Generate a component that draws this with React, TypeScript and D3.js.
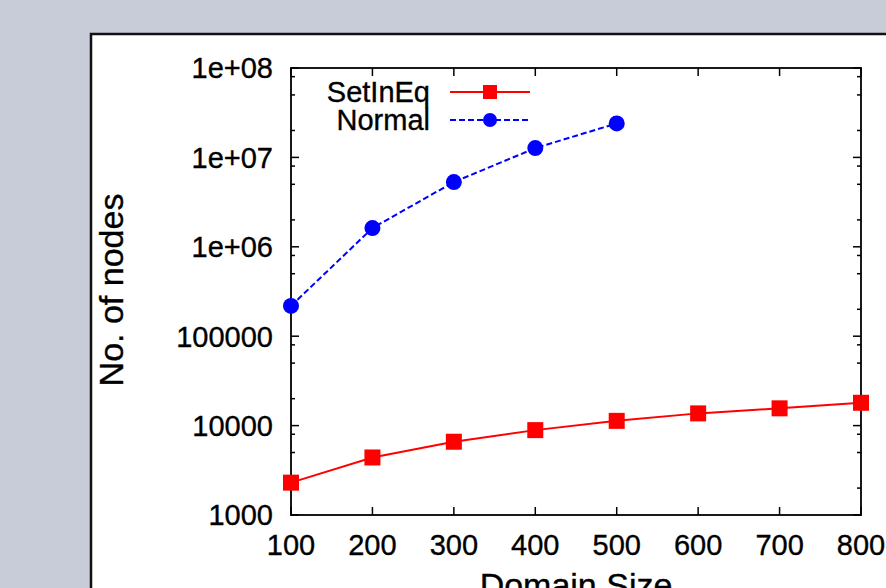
import React from 'react';
import * as d3 from 'd3';

// values
const domainSizes = [100, 200, 300, 400, 500, 600, 700, 800];
const setInEqNodes = [2300, 4400, 6600, 8900, 11300, 13700, 15600, 18000];
const normalSizes = [100, 200, 300, 400, 500];
const normalNodes = [218000, 1620000, 5300000, 12700000, 24000000];
const yTickValues = [1e3, 1e4, 1e5, 1e6, 1e7, 1e8];
const yTickLabels = ['1000', '10000', '100000', '1e+06', '1e+07', '1e+08'];
const minorMultipliers = [2, 5, 8];

const W = 886, H = 588;
const left = 291, right = 861, top = 68, bottom = 515;
const font = '"Liberation Sans", Arial, Helvetica, sans-serif';

export default function App() {
  const x = d3.scaleLinear().domain([100, 800]).range([left, right]);
  const y = d3.scaleLog().domain([1e3, 1e8]).range([bottom, top]);

  const line = d3.line<[number, number]>()
    .x((d) => x(d[0]))
    .y((d) => y(d[1]));

  const redPts: [number, number][] = domainSizes.map((d, i) => [d, setInEqNodes[i]]);
  const bluePts: [number, number][] = normalSizes.map((d, i) => [d, normalNodes[i]]);

  const minors: number[] = [];
  yTickValues.slice(0, -1).forEach((v) => minorMultipliers.forEach((m) => minors.push(v * m)));

  const txt = { fill: '#000', stroke: '#000', strokeWidth: 0.35 };

  return (
    <svg width={W} height={H} style={{ position: 'absolute', left: 0, top: 0 }} fontFamily={font}>
      <rect x={0} y={0} width={W} height={H} fill="#c8ccd8" />
      <rect x={91} y={34} width={900} height={700} fill="#fff" stroke="#111" strokeWidth={2.5} />

      {/* y ticks */}
      {yTickValues.map((v, i) => (
        <g key={'y' + v}>
          <line x1={left} x2={left + 8} y1={y(v)} y2={y(v)} stroke="#000" strokeWidth={1.5} />
          <line x1={right} x2={right - 8} y1={y(v)} y2={y(v)} stroke="#000" strokeWidth={1.5} />
          <text x={273} y={y(v)} dy="0.36em" textAnchor="end" fontSize={29} {...txt}>
            {yTickLabels[i]}
          </text>
        </g>
      ))}
      {minors.map((v) => (
        <g key={'m' + v}>
          <line x1={left} x2={left + 4} y1={y(v)} y2={y(v)} stroke="#000" strokeWidth={1.5} />
          <line x1={right} x2={right - 4} y1={y(v)} y2={y(v)} stroke="#000" strokeWidth={1.5} />
        </g>
      ))}

      {/* x ticks */}
      {x.ticks(7).map((v) => (
        <g key={'x' + v}>
          <line x1={x(v)} x2={x(v)} y1={bottom} y2={bottom - 8} stroke="#000" strokeWidth={1.5} />
          <line x1={x(v)} x2={x(v)} y1={top} y2={top + 8} stroke="#000" strokeWidth={1.5} />
          <text x={x(v)} y={555} textAnchor="middle" fontSize={29} {...txt}>{v}</text>
        </g>
      ))}

      <rect x={left} y={top} width={right - left} height={bottom - top} fill="none" stroke="#000" strokeWidth={1.8} />

      {/* series */}
      <path d={line(redPts) || ''} fill="none" stroke="#ff0000" strokeWidth={2} />
      {redPts.map((p) => (
        <rect key={'r' + p[0]} x={x(p[0]) - 8} y={y(p[1]) - 8} width={16} height={16} fill="#ff0000" />
      ))}
      <path d={line(bluePts) || ''} fill="none" stroke="#0000ff" strokeWidth={2} strokeDasharray="6,3" />
      {bluePts.map((p) => (
        <circle key={'b' + p[0]} cx={x(p[0])} cy={y(p[1])} r={8} fill="#0000ff" />
      ))}

      {/* legend */}
      <text x={430} y={92} dy="0.36em" textAnchor="end" fontSize={29} {...txt}>SetInEq</text>
      <line x1={450} x2={530} y1={92} y2={92} stroke="#ff0000" strokeWidth={2} />
      <rect x={483} y={85} width={14} height={14} fill="#ff0000" />
      <text x={430} y={120} dy="0.36em" textAnchor="end" fontSize={29} {...txt}>Normal</text>
      <line x1={450} x2={530} y1={120} y2={120} stroke="#0000ff" strokeWidth={2} strokeDasharray="6,3" />
      <circle cx={490} cy={120} r={7} fill="#0000ff" />

      {/* axis titles */}
      <text transform="translate(123,290) rotate(-90)" textAnchor="middle" fontSize={34} {...txt}>
        No. of nodes
      </text>
      <text x={(left + right) / 2} y={597} textAnchor="middle" fontSize={34} {...txt}>Domain Size</text>
    </svg>
  );
}
